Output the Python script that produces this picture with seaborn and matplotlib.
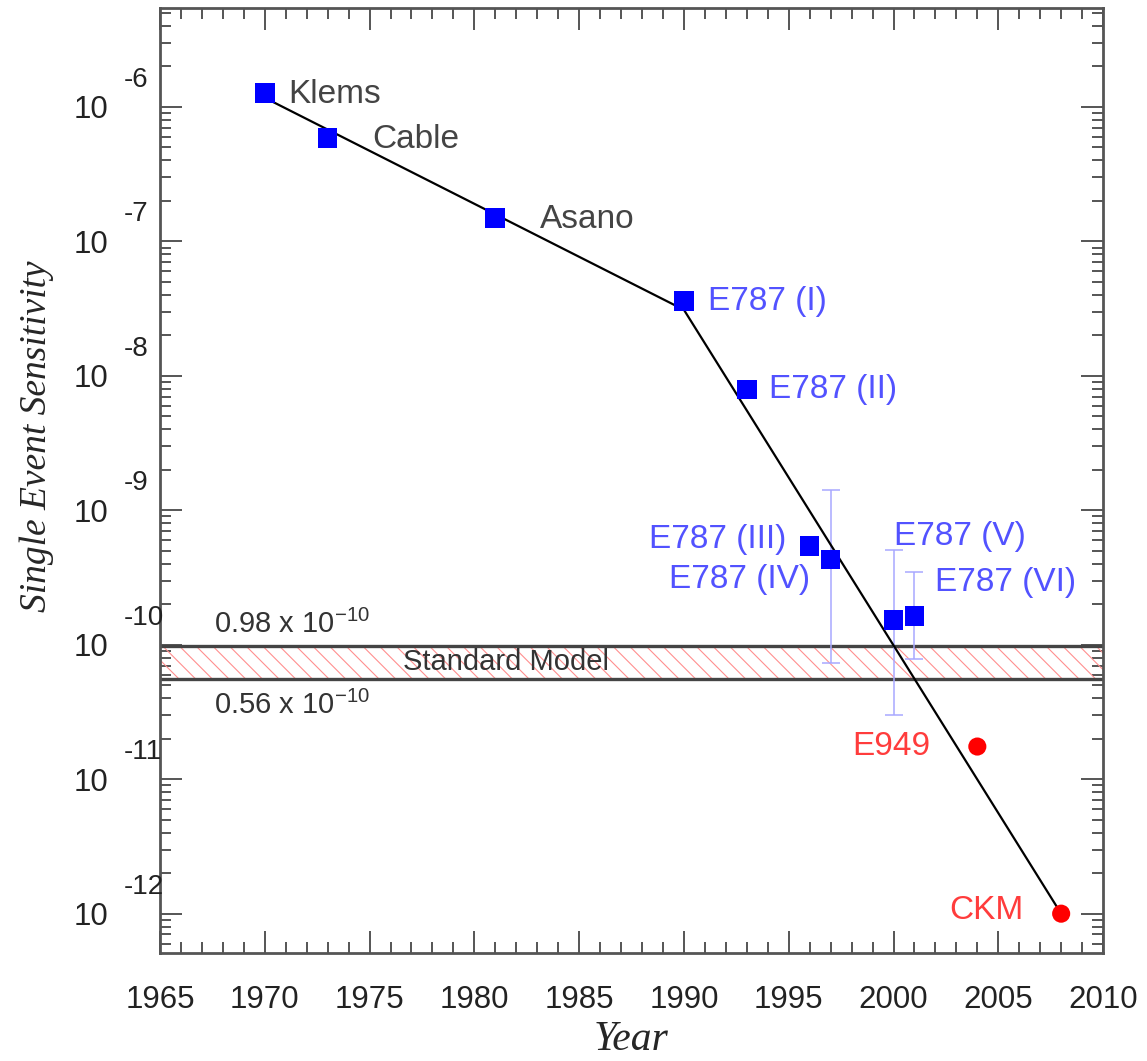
import numpy as np
import matplotlib
matplotlib.use('Agg')
import matplotlib.pyplot as plt
import matplotlib.ticker as mticker
import seaborn as sns

# Measurements shown as squares (blue)
sq_years = [1970, 1973, 1981, 1990, 1993, 1996, 1997, 2000, 2001]
sq_ses = [1.27e-6, 5.9e-7, 1.5e-7, 3.6e-8, 7.9e-9, 5.4e-10, 4.3e-10, 1.53e-10, 1.64e-10]
sq_labels = ['Klems', 'Cable', 'Asano', 'E787 (I)', 'E787 (II)',
             'E787 (III)', 'E787 (IV)', 'E787 (V)', 'E787 (VI)']

# Error bars on the later E787 points
err_years = [1997, 2000, 2001]
err_hi = [1.42e-9, 5.1e-10, 3.5e-10]
err_lo = [7.3e-11, 3.0e-11, 7.8e-11]

# Future / projected points (red circles)
circ_years = [2004, 2008]
circ_ses = [1.75e-11, 1.0e-12]
circ_labels = ['E949', 'CKM']

# Trend line
trend_years = [1970, 1990, 2008]
trend_ses = [1.17e-6, 3.1e-8, 1.0e-12]

# Standard Model band
sm_lo = 0.56e-10
sm_hi = 0.98e-10

decades = [-6, -7, -8, -9, -10, -11, -12]
year_ticks = [1965, 1970, 1975, 1980, 1985, 1990, 1995, 2000, 2005, 2010]


def main():
    sns.set_style('ticks')
    plt.rcParams['font.family'] = ['Liberation Sans', 'DejaVu Sans']
    plt.rcParams['mathtext.fontset'] = 'custom'
    plt.rcParams['mathtext.rm'] = 'Liberation Sans'
    plt.rcParams['mathtext.it'] = 'Liberation Sans:italic'
    plt.rcParams['hatch.linewidth'] = 0.8

    fig = plt.figure(figsize=(11.47, 10.61), dpi=100)
    ax = fig.add_axes([0.1395, 0.1018, 0.8222, 0.8907])
    ax.set_yscale('log')

    # Standard Model band
    ax.axhspan(sm_lo, sm_hi, facecolor='none', edgecolor='#ff8f8f',
               hatch='\\\\', linewidth=0, zorder=1)
    for v in (sm_lo, sm_hi):
        ax.axhline(v, color='#444444', lw=2.4, zorder=2)
    ax.text(1981.5, np.sqrt(sm_lo * sm_hi), 'Standard Model', fontsize=21,
            color='#333333', ha='center', va='center', zorder=3)
    ax.annotate(r'0.98 x 10$^{-10}$', xy=(1967.6, sm_hi), xytext=(0, 5),
                textcoords='offset points', fontsize=21, color='#333333',
                ha='left', va='bottom')
    ax.annotate(r'0.56 x 10$^{-10}$', xy=(1967.6, sm_lo), xytext=(0, -9),
                textcoords='offset points', fontsize=21, color='#333333',
                ha='left', va='top')

    # trend line
    sns.lineplot(x=trend_years, y=trend_ses, color='black', lw=1.6,
                 ax=ax, zorder=4)

    # error bars
    err_mid = np.array([sq_ses[sq_years.index(y)] for y in err_years])
    ax.errorbar(err_years, err_mid,
                yerr=[err_mid - np.array(err_lo), np.array(err_hi) - err_mid],
                fmt='none', ecolor='#a8a8ff', elinewidth=1.1, capsize=6.5,
                capthick=1.1, zorder=3)

    sns.scatterplot(x=sq_years, y=sq_ses, marker='s', s=200, color='#0000ff',
                    edgecolor='none', ax=ax, zorder=5)
    sns.scatterplot(x=circ_years, y=circ_ses, marker='o', s=170, color='#ff0000',
                    edgecolor='none', ax=ax, zorder=5)

    # point labels (offsets in points)
    sq_offsets = [(17, -1), (32, -1), (32, -1), (17, 0), (16, 0),
                  (-17, 5), (-15, -14), (0, 60), (15, 24)]
    sq_colors = ['#444444'] * 3 + ['#5252ff'] * 6
    for x, y, lab, (dx, dy), c in zip(sq_years, sq_ses, sq_labels, sq_offsets, sq_colors):
        ax.annotate(lab, xy=(x, y), xytext=(dx, dy), textcoords='offset points',
                    fontsize=24, color=c, va='center',
                    ha='right' if dx < 0 else 'left', zorder=6)
    circ_offsets = [(-34, 0), (-27, 2)]
    for x, y, lab, (dx, dy) in zip(circ_years, circ_ses, circ_labels, circ_offsets):
        ax.annotate(lab, xy=(x, y), xytext=(dx, dy), textcoords='offset points',
                    fontsize=24, color='#ff3c3c', va='center', ha='right', zorder=6)

    # axes limits and ticks
    ax.set_xlim(1965, 2010)
    ax.set_ylim(5.1e-13, 5.45e-6)
    ax.set_xticks(year_ticks)
    ax.xaxis.set_minor_locator(mticker.MultipleLocator(1))
    ax.set_yticks([10.0 ** d for d in decades])
    ax.yaxis.set_minor_locator(mticker.LogLocator(base=10, subs=np.arange(2, 10)))
    ax.yaxis.set_minor_formatter(mticker.NullFormatter())
    ax.set_yticklabels(['10'] * len(decades))
    for d in decades:
        ax.annotate(str(d), xy=(0, 10.0 ** d), xycoords=('axes fraction', 'data'),
                    xytext=(-26, 19.5), textcoords='offset points', fontsize=20,
                    ha='left', va='center', color='#222222')

    ax.tick_params(which='both', direction='in', top=True, right=True,
                   color='#555555', width=1.4)
    ax.tick_params(which='major', length=16, labelsize=22.5, labelcolor='#222222')
    ax.tick_params(which='minor', length=8)
    ax.tick_params(axis='x', which='major', pad=23)
    ax.tick_params(axis='y', which='major', pad=37)
    for sp in ax.spines.values():
        sp.set_color('#555555')
        sp.set_linewidth(2)

    ax.set_xlabel('Year', fontsize=30, family='Liberation Serif', style='italic',
                  va='baseline')
    ax.xaxis.set_label_coords(0.5, -0.1026)
    ax.set_ylabel('Single Event Sensitivity', fontsize=27, family='Liberation Serif',
                  style='italic')
    ax.yaxis.set_label_coords(-0.112, 0.547)

    fig.savefig('out.png', dpi=100)


if __name__ == '__main__':
    main()
